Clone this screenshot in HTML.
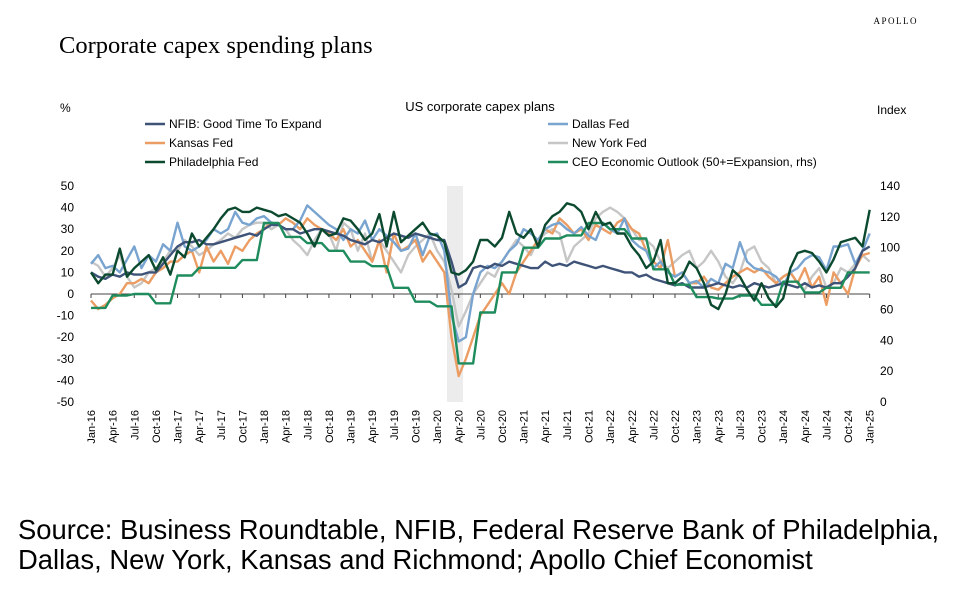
<!DOCTYPE html>
<html><head><meta charset="utf-8"><style>
body{margin:0;background:#fff;width:958px;height:587px;overflow:hidden;font-family:"Liberation Sans",sans-serif}
</style></head><body>
<svg id="c" width="958" height="587" xmlns="http://www.w3.org/2000/svg">
<text x="918" y="24" text-anchor="end" font-family="Liberation Serif" font-size="9" letter-spacing="1.5">APOLLO</text>
<text x="59" y="53" font-family="Liberation Serif" font-size="24.5">Corporate capex spending plans</text>
<text x="480" y="111" text-anchor="middle" font-size="13">US corporate capex plans</text>
<text x="60" y="112" font-size="12">%</text>
<text x="877" y="114" font-size="12">Index</text>
<rect x="447" y="186" width="16" height="216" fill="#ececec"/>
<g id="legend" font-size="12"></g>
<g id="axes"></g>
<g id="lines"></g>
<text x="18" y="539" font-size="27.4">Source: Business Roundtable, NFIB, Federal Reserve Bank of Philadelphia,</text>
<text x="18" y="569" font-size="27.4">Dallas, New York, Kansas and Richmond; Apollo Chief Economist</text>
</svg>
<script>
const nfib=[10,8,7,9,8,10,9,9,10,10,14,18, 22,24,24,25,23,23,24,25,26,27,28,27, 30,32,32,30,30,28,29,30,30,29,28,27, 25,24,23,25,24,26,28,27,26,28,27,26, 25,25,15,3,5,12,13,12,14,13,15,14, 13,12,12,15,13,14,13,15,14,13,12,13, 12,11,10,10,8,9,7,6,5,4,5,3, 3,3,4,5,4,3,4,3,5,4,3,4, 5,4,3,5,3,4,3,5,5,8,12,20, 22];
const dallas=[14,18,12,13,10,16,22,12,18,15,23,20, 33,22,20,22,25,30,28,30,38,33,32,35, 36,33,32,30,30,34,41,38,35,32,30,25, 30,28,34,25,30,27,24,20,21,28,18,27, 28,20,-10,-22,-20,0,10,13,12,15,20,23, 30,28,25,30,32,33,30,28,31,27,25,33, 30,28,35,25,22,20,12,15,10,8,10,5, 6,3,7,5,14,12,24,15,12,11,10,8, 4,10,12,16,18,17,11,22,22,23,14,20, 28];
const kansas=[-3,-7,-5,-2,0,5,5,7,5,10,12,15, 15,18,20,10,22,15,20,14,22,20,25,28, 30,33,32,35,33,30,35,32,30,28,25,30, 22,25,20,15,25,10,28,20,22,25,15,20, 15,10,-20,-38,-30,-20,-10,-5,0,5,0,10, 15,20,25,30,28,35,32,28,30,25,32,30, 28,33,35,30,28,20,15,12,25,8,10,5, 5,8,3,2,5,8,10,12,10,12,8,5, 8,10,5,12,3,8,-5,10,5,0,12,18, 19];
const newyork=[15,13,8,12,18,8,3,5,10,12,15,20, 20,25,22,18,20,23,25,28,26,30,32,33, 33,30,32,30,25,22,18,25,30,28,20,33, 30,20,28,15,25,20,15,10,18,22,25,28, 20,15,2,-15,-8,0,5,10,8,15,20,25, 22,18,25,28,30,28,15,22,25,28,35,38, 40,38,35,30,25,25,22,15,12,15,18,20, 12,15,20,15,8,5,10,20,22,15,12,5, 8,10,5,2,8,12,3,5,12,10,14,18, 15];
const philly=[10,5,9,9,21,8,12,15,18,11,17,9, 20,17,28,22,26,30,35,39,40,38,38,40, 39,38,36,37,35,33,28,22,30,27,28,35, 34,30,25,28,37,22,38,24,27,30,33,28, 27,24,10,9,11,15,25,25,22,26,38,28, 26,30,22,32,36,38,42,41,38,30,38,32, 33,28,28,22,18,12,15,25,5,5,8,15, 12,5,-5,-7,0,11,8,2,-3,5,-2,-6, -2,12,19,20,19,15,10,16,24,25,26,22, 39];
const ceoQuarterly=[61,69,70,64, 82,87,87,92, 116,107,103,98, 91,88,74,65, 62,25,58,84, 100,106,108,116, 112,106,86,76, 68,67,69,63, 78,71,74,84, 84];
const tickLabels=["Jan-16","Apr-16","Jul-16","Oct-16","Jan-17","Apr-17","Jul-17","Oct-17","Jan-18","Apr-18","Jul-18","Oct-18","Jan-19","Apr-19","Jul-19","Oct-19","Jan-20","Apr-20","Jul-20","Oct-20","Jan-21","Apr-21","Jul-21","Oct-21","Jan-22","Apr-22","Jul-22","Oct-22","Jan-23","Apr-23","Jul-23","Oct-23","Jan-24","Apr-24","Jul-24","Oct-24","Jan-25"];
const leftTicks=[50,40,30,20,10,0,-10,-20,-30,-40,-50];
const rightTicks=[140,120,100,80,60,40,20,0];

const NS="http://www.w3.org/2000/svg";
const X0=91,DX=7.21,TOP=186,BOT=402;
const xs=i=>X0+i*DX;
const yL=v=>TOP+(50-v)*(BOT-TOP)/100;
const yR=v=>TOP+(140-v)*(BOT-TOP)/140;
function mk(tag,attrs,parent){const e=document.createElementNS(NS,tag);for(const k in attrs)e.setAttribute(k,attrs[k]);parent.appendChild(e);return e;}
const axes=document.getElementById('axes'),lines=document.getElementById('lines'),leg=document.getElementById('legend');

leftTicks.forEach(v=>{const t=mk('text',{x:74,y:yL(v)+4,'text-anchor':'end','font-size':12},axes);t.textContent=v;

});
rightTicks.forEach(v=>{const t=mk('text',{x:880,y:yR(v)+4,'font-size':12},axes);t.textContent=v;

});
const zl=mk('line',{x1:X0,x2:xs(108),y1:yL(0),y2:yL(0),stroke:'#444','stroke-width':1},axes);


tickLabels.forEach((lab,k)=>{const x=xs(k*3);
const tk=mk('line',{x1:x,x2:x,y1:yL(0),y2:yL(0)+4,stroke:'#444'},axes);


const t=mk('text',{x:0,y:0,'text-anchor':'end','font-size':11,transform:`translate(${x+4},${BOT+8}) rotate(-90)`},axes);t.textContent=lab;

});

function path(vals,sc,color,name){let d='';vals.forEach((v,i)=>{d+=(i?'L':'M')+xs(i).toFixed(1)+','+sc(v).toFixed(1);});
const p=mk('path',{d:d,fill:'none',stroke:color,'stroke-width':2.4,'stroke-linejoin':'round'},lines);

}
const ceo=[];ceoQuarterly.forEach((v,q)=>{for(let m=0;m<3;m++){if(ceo.length<109)ceo.push(v);}});
path(newyork,yL,'#c6c6c6','line-new-york-fed');
path(kansas,yL,'#eb9d63','line-kansas-fed');
path(dallas,yL,'#79a4d0','line-dallas-fed');
path(nfib,yL,'#3e5377','line-nfib');
path(ceo,yR,'#1e8c5c','line-ceo-outlook');
path(philly,yL,'#0c4a30','line-philadelphia-fed');

const legendItems=[["NFIB: Good Time To Expand",'#3e5377',145,128],["Dallas Fed",'#79a4d0',548,128],["Kansas Fed",'#eb9d63',145,147],["New York Fed",'#c6c6c6',548,147],["Philadelphia Fed",'#0c4a30',145,166],["CEO Economic Outlook (50+=Expansion, rhs)",'#1e8c5c',548,166]];
legendItems.forEach(([lab,c,x,y])=>{
const l=mk('line',{x1:x,x2:x+20,y1:y-4,y2:y-4,stroke:c,'stroke-width':2.5},leg);


const t=mk('text',{x:x+24,y:y},leg);t.textContent=lab;

});
</script>
</body></html>
